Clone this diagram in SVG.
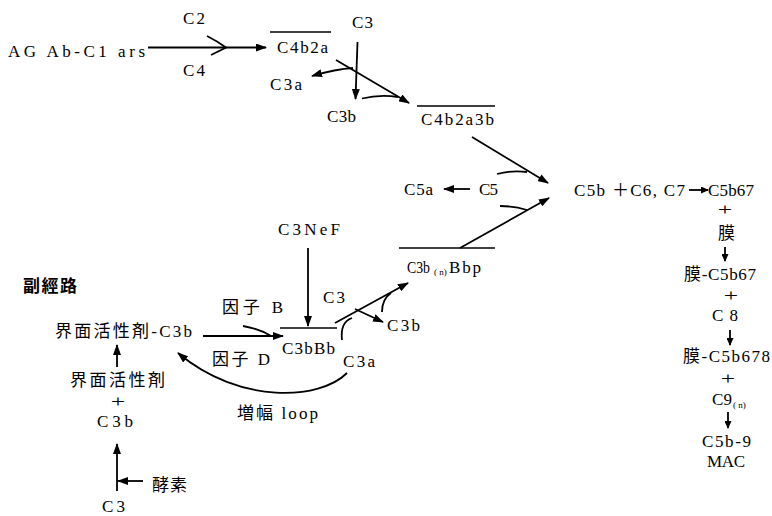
<svg xmlns="http://www.w3.org/2000/svg" width="772" height="516" viewBox="0 0 772 516">
<style>
.t{font-family:"Liberation Serif","Times New Roman",serif;font-size:17px;fill:#000}
.j{font-family:"Noto Sans CJK JP","Noto Sans CJK SC",sans-serif;font-size:17px;fill:#000}
.pl{font-family:"Liberation Serif","Times New Roman",serif;font-size:17px;text-anchor:middle;fill:#000}
.sub{font-size:9px}
.ol{stroke:#000;stroke-width:1.6;fill:none}
.c{stroke:#000;stroke-width:1.8;fill:none}
.a{marker-end:url(#ah)}
.s{marker-end:url(#as)}
</style>
<defs>
<marker id="ah" viewBox="0 0 11 8" refX="10" refY="4" markerWidth="11" markerHeight="8" markerUnits="userSpaceOnUse" orient="auto"><path d="M0,0 L11,4 L0,8 z" fill="#000"/></marker>
<marker id="as" viewBox="0 0 8 7" refX="7" refY="3.5" markerWidth="8" markerHeight="7" markerUnits="userSpaceOnUse" orient="auto"><path d="M0,0 L8,3.5 L0,7 z" fill="#000"/></marker>
</defs>
<rect width="772" height="516" fill="#fff"/>

<g id="connectors">
<path class="c a" d="M148,47.5 L266,47.5"/>
<path class="c" d="M207,36 Q217,41 226,47.5 L211,55"/>
<path class="c a" d="M357.5,42 L355.5,99"/>
<path class="c a" d="M336,60 L409,103"/>
<path class="c a" d="M353,68 Q336,69 312,76"/>
<path class="c" d="M362,98.5 Q380,94 398,97"/>
<path class="c a" d="M472,137 L548,183"/>
<path class="c" d="M497,174 Q512,170 527,172"/>
<path class="c a" d="M470,189 L444,189"/>
<path class="c" d="M500,206 Q515,206 527,210"/>
<path class="c a" d="M460,248 L549,198"/>
<path class="c s" d="M689,190 L708,190"/>
<path class="c s" d="M725,247 L725,261"/>
<path class="c s" d="M730,330 L730,345"/>
<path class="c s" d="M728,412 L728,428"/>
<path class="c a" d="M117,367 L117,345"/>
<path class="c a" d="M117,491 L117,444"/>
<path class="c a" d="M143,481 L118,481"/>
<path class="c a" d="M308,248 L308,326"/>
<path class="c a" d="M203,336 L283,336"/>
<path class="c" d="M243,326 Q260,329 271,336"/>
<path class="c" d="M342,340 Q340,322 352,318"/>
<path class="c a" d="M335,323 L408,283"/>
<path class="c a" d="M355,309 L383,322"/>
<path class="c" d="M382,312 Q382,299 391,293"/>
<path class="c a" d="M347,373 C320,400 240,405 178,353"/>
</g>

<g id="node-ag"><text class="t" x="8" y="57" textLength="137" lengthAdjust="spacing">AG Ab-C1 ars</text></g>
<g id="label-c2"><text class="t" x="183" y="24" textLength="22" lengthAdjust="spacing">C2</text></g>
<g id="label-c4"><text class="t" x="183" y="76" textLength="22" lengthAdjust="spacing">C4</text></g>
<g id="node-c4b2a"><line class="ol" x1="270" y1="32" x2="331" y2="32"/><text class="t" x="277" y="53" textLength="51" lengthAdjust="spacing">C4b2a</text></g>
<g id="node-c3-top"><text class="t" x="352" y="28" textLength="21" lengthAdjust="spacing">C3</text></g>
<g id="node-c3a-top"><text class="t" x="270" y="90" textLength="32" lengthAdjust="spacing">C3a</text></g>
<g id="node-c3b-top"><text class="t" x="327" y="122" textLength="29" lengthAdjust="spacing">C3b</text></g>
<g id="node-c4b2a3b"><line class="ol" x1="417" y1="106" x2="495" y2="106"/><text class="t" x="421" y="125" textLength="73" lengthAdjust="spacing">C4b2a3b</text></g>
<g id="node-c5"><text class="t" x="479" y="195" textLength="19" lengthAdjust="spacing">C5</text></g>
<g id="node-c5a"><text class="t" x="404" y="195" textLength="29" lengthAdjust="spacing">C5a</text></g>
<g id="node-c3bnbbp"><line class="ol" x1="399" y1="248" x2="495" y2="248"/><text class="t" x="407" y="273" font-size="16" textLength="23" lengthAdjust="spacingAndGlyphs">C3b</text><text class="t sub" x="434" y="275">( n)</text><text class="t" x="449" y="273" font-size="16" textLength="32" lengthAdjust="spacing">Bbp</text></g>

<g id="node-c5b"><text class="t" x="574" y="196" textLength="111" lengthAdjust="spacing">C5b <tspan class="j">＋</tspan>C6, C7</text><text class="t" x="708" y="196" textLength="46" lengthAdjust="spacing">C5b67</text></g>
<g id="plus-1"><text class="pl" transform="translate(725,215) scale(1.5,1)">+</text></g>
<g id="node-maku"><text class="j" x="718" y="239">膜</text></g>
<g id="node-maku-c5b67"><text class="t" x="684" y="280" textLength="72" lengthAdjust="spacing"><tspan class="j">膜</tspan>-C5b67</text></g>
<g id="plus-2"><text class="pl" transform="translate(731,301) scale(1.5,1)">+</text></g>
<g id="node-c8"><text class="t" x="712" y="321" textLength="26" lengthAdjust="spacing">C 8</text></g>
<g id="node-maku-c5b678"><text class="t" x="683" y="362" textLength="87" lengthAdjust="spacing"><tspan class="j">膜</tspan>-C5b678</text></g>
<g id="plus-3"><text class="pl" transform="translate(728,384) scale(1.5,1)">+</text></g>
<g id="node-c9n"><text class="t" x="712" y="405" textLength="20" lengthAdjust="spacing">C9</text><text class="t sub" x="733" y="408">( n)</text></g>
<g id="node-mac"><text class="t" x="702" y="447" textLength="49" lengthAdjust="spacing">C5b-9</text><text class="t" x="707" y="467" textLength="38" lengthAdjust="spacing">MAC</text></g>

<g id="title-alt"><text class="j" x="23" y="292" font-size="18" font-weight="bold" textLength="54" lengthAdjust="spacing">副經路</text></g>
<g id="node-surf-c3b"><text class="t" x="55" y="337" textLength="137" lengthAdjust="spacing"><tspan class="j" font-size="18">界面活性剤</tspan>-C3b</text></g>
<g id="node-surf"><text class="j" x="70" y="386" font-size="18" textLength="95" lengthAdjust="spacing">界面活性剤</text></g>
<g id="plus-4"><text class="pl" transform="translate(118,407) scale(1.5,1)">+</text></g>
<g id="node-c3b-left"><text class="t" x="97" y="427" textLength="36" lengthAdjust="spacing">C3b</text></g>
<g id="node-enzyme"><text class="j" x="152" y="491" font-size="18" textLength="35" lengthAdjust="spacing">酵素</text></g>
<g id="node-c3-left"><text class="t" x="102" y="512" textLength="23" lengthAdjust="spacing">C3</text></g>

<g id="node-c3nef"><text class="t" x="278" y="235" textLength="62" lengthAdjust="spacing">C3NeF</text></g>
<g id="label-factor-b"><text class="t" x="222" y="313" textLength="61" lengthAdjust="spacing"><tspan class="j">因子</tspan>  B</text></g>
<g id="node-c3-mid"><text class="t" x="323" y="303" textLength="22" lengthAdjust="spacing">C3</text></g>
<g id="node-c3b-mid"><text class="t" x="387" y="331" textLength="33" lengthAdjust="spacing">C3b</text></g>
<g id="node-c3bbb"><line class="ol" x1="280" y1="328" x2="337" y2="328"/><text class="t" x="282" y="354" textLength="53" lengthAdjust="spacing">C3bBb</text></g>
<g id="label-factor-d"><text class="t" x="212" y="365" textLength="58" lengthAdjust="spacing"><tspan class="j">因子</tspan>  D</text></g>
<g id="node-c3a-mid"><text class="t" x="343" y="367" textLength="32" lengthAdjust="spacing">C3a</text></g>
<g id="label-loop"><text class="t" x="237" y="419" textLength="81" lengthAdjust="spacing"><tspan class="j">増幅</tspan>  loop</text></g>
</svg>
